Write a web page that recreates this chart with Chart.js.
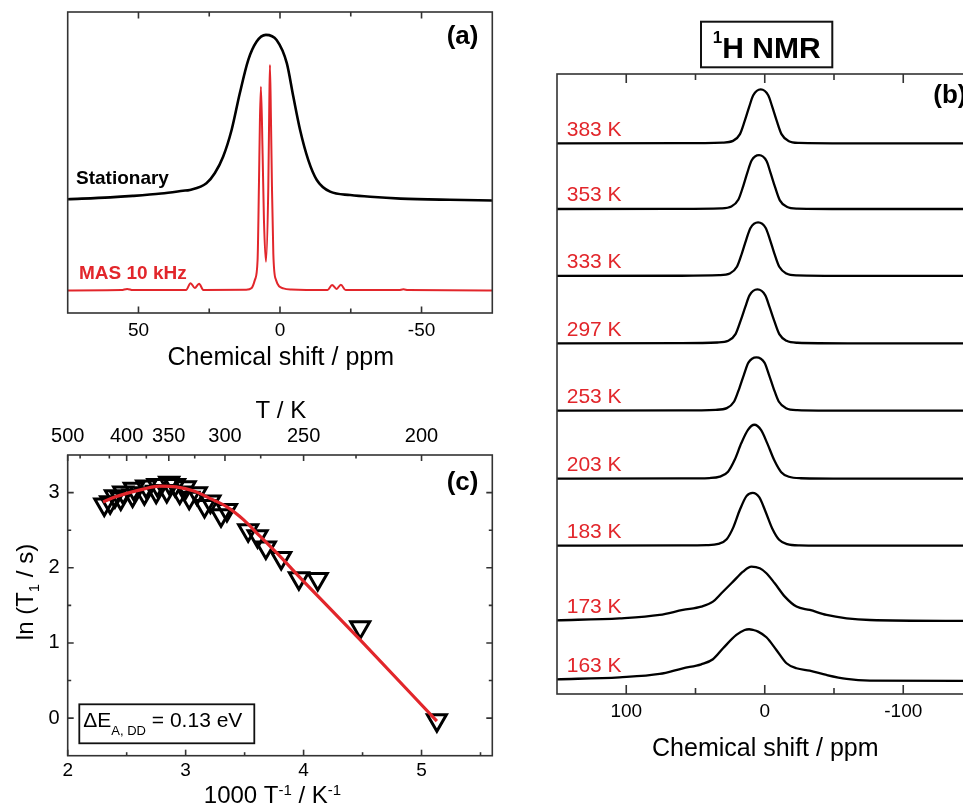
<!DOCTYPE html>
<html>
<head>
<meta charset="utf-8">
<script src="https://cdn.jsdelivr.net/npm/chart.js@4.4.1/dist/chart.umd.min.js"></script>
<style>
  html, body { margin: 0; padding: 0; background: #fff; }
  body { width: 963px; height: 807px; overflow: hidden; position: relative; }
  canvas { position: absolute; }
  #ca { left: 0; top: 0; }
  #cb { left: 520px; top: 0; }
  #cc { left: 0; top: 380px; }
</style>
</head>
<body>
<canvas id="ca" width="510" height="375"></canvas>
<canvas id="cb" width="470" height="807"></canvas>
<canvas id="cc" width="510" height="427"></canvas>
<script>
// ---------- (a) 1H spectra: static sample vs. MAS 10 kHz (shift / ppm, normalised intensity)
const statShift = [75, 60, 52, 42, 34.3, 31.9, 26.0, 23.0, 20.1, 17.1, 14.2, 11.2, 8.3, 5.0, 1.2, -2.4, -4.7, -7.1, -10.0, -13.0, -17.7, -24.8, -31.9, -42.6, -60, -75];
const statInt   = [0.378, 0.384, 0.389, 0.397, 0.406, 0.409, 0.431, 0.465, 0.519, 0.608, 0.730, 0.841, 0.901, 0.924, 0.907, 0.830, 0.719, 0.608, 0.508, 0.442, 0.403, 0.392, 0.386, 0.380, 0.376, 0.374];
const masShift  = [75, 56, 54, 52, 33.2, 31.6, 30.1, 28.6, 27.0, 12, 10, 8.87, 7.92, 7.45, 7.09, 6.74, 6.15, 5.67, 4.96, 4.13, 3.78, 3.55, 3.19, 2.84, 2.36, 1.42, -1.18, -4, -16.8, -18.4, -20.0, -21.5, -23.2, -42, -43.6, -45.2, -75];
const masInt    = [0.075, 0.076, 0.080, 0.076, 0.076, 0.099, 0.083, 0.097, 0.076, 0.077, 0.083, 0.110, 0.176, 0.420, 0.641, 0.752, 0.531, 0.309, 0.170, 0.420, 0.697, 0.824, 0.641, 0.420, 0.198, 0.110, 0.082, 0.078, 0.076, 0.093, 0.080, 0.094, 0.076, 0.076, 0.079, 0.076, 0.075];
const shiftTicksA = [50, 0, -50];
const shiftMinorA = [25, -25];

// ---------- (b) variable-temperature static 1H spectra
const temps = [383, 353, 333, 297, 253, 203, 183, 173, 163];
const shift383 = [150, 60, 30.4, 22.9, 17.9, 14.4, 11.3, 8.3, 2.9, -2.5, -5.5, -8.6, -12.1, -17.1, -24.6, -60, -150];
const int383   = [0, 0.003, 0.013, 0.044, 0.17, 0.42, 0.67, 0.89, 1.0, 0.89, 0.67, 0.42, 0.17, 0.044, 0.008, 0, 0];
const shift353 = [150, 60, 31.6, 24.1, 19.1, 15.6, 12.5, 9.5, 4.1, -1.3, -4.3, -7.4, -10.9, -15.9, -23.4, -60, -150];
const int353   = [0, 0.003, 0.012, 0.045, 0.17, 0.42, 0.68, 0.90, 1.0, 0.89, 0.66, 0.41, 0.16, 0.043, 0.008, 0, 0];
const shift333 = [150, 60, 32.9, 25.2, 20.1, 16.5, 13.4, 10.3, 4.8, -0.7, -3.8, -6.9, -10.5, -15.6, -23.3, -60, -150];
const int333   = [0, 0.004, 0.014, 0.046, 0.17, 0.42, 0.67, 0.89, 0.995, 0.89, 0.67, 0.42, 0.17, 0.045, 0.009, 0, 0];
const shift297 = [150, 60, 34.2, 26.3, 21.1, 17.4, 14.1, 11.0, 5.3, -0.4, -3.5, -6.8, -10.5, -15.7, -23.6, -60, -150];
const int297   = [0, 0.004, 0.015, 0.047, 0.17, 0.42, 0.67, 0.89, 1.0, 0.89, 0.67, 0.42, 0.17, 0.046, 0.010, 0, 0];
const shift253 = [150, 60, 35.4, 27.4, 22.1, 18.3, 15.0, 11.8, 6.0, 0.2, -3.0, -6.3, -10.1, -15.4, -23.4, -60, -150];
const int253   = [0, 0.004, 0.016, 0.048, 0.17, 0.42, 0.67, 0.89, 0.99, 0.89, 0.67, 0.42, 0.17, 0.047, 0.011, 0, 0];
const shift203 = [150, 60, 40, 32.5, 26.5, 21.7, 16.9, 12.0, 7.5, 2.6, -1.9, -6.9, -11.9, -17.5, -26.0, -60, -150];
const int203   = [0, 0.004, 0.012, 0.037, 0.13, 0.35, 0.66, 0.91, 1.0, 0.90, 0.65, 0.34, 0.12, 0.035, 0.008, 0, 0];
const shift183 = [150, 60, 42, 33.5, 27.5, 22.7, 17.9, 13.2, 8.7, 4.0, -0.6, -5.4, -10.4, -16.2, -25.0, -60, -150];
const int183   = [0, 0.004, 0.010, 0.033, 0.12, 0.34, 0.67, 0.92, 0.98, 0.90, 0.63, 0.32, 0.11, 0.030, 0.006, 0, 0];
const shift173 = [150, 104.8, 75.9, 59.1, 45.8, 37.4, 31.3, 22.9, 15.7, 9.6, 3.6, -1.2, -7.2, -14.5, -22.9, -32.5, -44.6, -59.1, -75.9, -150];
const int173   = [0, 0.037, 0.099, 0.192, 0.254, 0.346, 0.501, 0.717, 0.903, 0.996, 0.965, 0.872, 0.686, 0.439, 0.254, 0.192, 0.099, 0.037, 0.006, -0.012];
const shift163 = [150, 104.8, 75.9, 59.1, 45.8, 37.4, 30.1, 20.5, 14.5, 11.3, 8.4, 4.8, -1.2, -8.4, -15.7, -22.9, -32.5, -44.6, -59.1, -75.9, -150];
const int163   = [0, 0.037, 0.099, 0.204, 0.278, 0.371, 0.575, 0.822, 0.915, 0.928, 0.915, 0.884, 0.779, 0.544, 0.297, 0.204, 0.161, 0.080, 0.006, -0.025, -0.031];
const shiftTicksB = [100, 0, -100];
const shiftMinorB = [50, -50];

// ---------- (c) spin-lattice relaxation vs. inverse temperature
const invT = [2.31, 2.36, 2.40, 2.45, 2.47, 2.55, 2.56, 2.65, 2.665, 2.75, 2.76, 2.84, 2.86, 2.91, 2.95, 3.00, 3.03, 3.095, 3.16, 3.21, 3.30, 3.35, 3.53, 3.61, 3.68, 3.81, 3.96, 4.12, 4.48, 5.13];
const lnT1 = [2.84, 2.87, 2.95, 2.92, 3.00, 2.96, 3.05, 2.99, 3.08, 3.01, 3.10, 3.02, 3.13, 3.10, 3.00, 3.07, 2.93, 2.99, 2.82, 2.88, 2.70, 2.77, 2.50, 2.42, 2.27, 2.13, 1.86, 1.85, 1.21, -0.03];
const fitX = [2.30, 2.40, 2.50, 2.65, 2.78, 2.92, 3.07, 3.21, 3.35, 3.49, 3.63, 3.77, 4.00, 4.48, 5.13];
const fitY = [2.875, 2.94, 2.99, 3.05, 3.085, 3.075, 3.02, 2.92, 2.81, 2.64, 2.42, 2.20, 1.82, 1.04, -0.04];
const invTicks = [2, 3, 4, 5];
const invMinor = [2.5, 3.5, 4.5, 5.5];
const tempTicks = [500, 400, 350, 300, 250, 200];
const tempMinor = [475, 425, 375, 325, 275, 225];
const lnTicks = [0, 1, 2, 3];
const lnMinor = [0.5, 1.5, 2.5];

// ---------- shared styling
const FONT = "'Liberation Sans', Arial, Helvetica, sans-serif";
const RED = '#e2262b';
const FRAME = '#333';
Chart.defaults.font.family = FONT;
Chart.defaults.color = '#000';

const xy = (xs, ys, off = 0) => xs.map((x, i) => ({ x: x, y: ys[i] + off }));
const fontStr = (size, bold) => (bold ? 'bold ' : '') + size + 'px ' + FONT;

// text made of runs with their own size / raise (sub- and superscripts)
function drawRich(ctx, it) {
  ctx.save();
  ctx.translate(it.x, it.y);
  if (it.rotate) ctx.rotate(it.rotate);
  ctx.textBaseline = 'alphabetic';
  ctx.textAlign = 'left';
  const widths = it.segs.map(s => { ctx.font = fontStr(s.size, s.bold); return ctx.measureText(s.t).width; });
  const total = widths.reduce((a, b) => a + b, 0);
  let x = it.align === 'center' ? -total / 2 : it.align === 'right' ? -total : 0;
  it.segs.forEach((s, i) => {
    ctx.font = fontStr(s.size, s.bold);
    ctx.fillStyle = s.color || it.color || '#000';
    ctx.fillText(s.t, x, s.dy || 0);
    x += widths[i];
  });
  ctx.restore();
}

// plot frame, inward tick marks, boxes and annotation text
function makeDecor(spec) {
  return {
    id: 'decor',
    afterDraw(chart) {
      const { ctx, chartArea: a } = chart;
      ctx.save();
      ctx.strokeStyle = FRAME;
      ctx.lineWidth = 1.6;
      ctx.strokeRect(a.left, a.top, a.right - a.left, a.bottom - a.top);
      (spec.ticks || []).forEach(t => {
        const sc = chart.scales[t.scale];
        t.values.forEach(v => {
          const p = sc.getPixelForValue(t.map ? t.map(v) : v);
          ctx.beginPath();
          t.sides.forEach(side => {
            if (side === 'bottom') { ctx.moveTo(p, a.bottom); ctx.lineTo(p, a.bottom - t.len); }
            if (side === 'top') { ctx.moveTo(p, a.top); ctx.lineTo(p, a.top + t.len); }
            if (side === 'left') { ctx.moveTo(a.left, p); ctx.lineTo(a.left + t.len, p); }
            if (side === 'right') { ctx.moveTo(a.right, p); ctx.lineTo(a.right - t.len, p); }
          });
          ctx.stroke();
        });
      });
      (spec.boxes || []).forEach(b => {
        ctx.lineWidth = b.lw;
        ctx.strokeStyle = '#111';
        ctx.strokeRect(b.x, b.y, b.w, b.h);
      });
      ctx.restore();
      const texts = typeof spec.texts === 'function' ? spec.texts(chart) : (spec.texts || []);
      texts.forEach(it => drawRich(ctx, it));
    }
  };
}

const baseOptions = {
  responsive: false,
  maintainAspectRatio: false,
  devicePixelRatio: 1,
  animation: false,
  events: [],
  plugins: { legend: { display: false }, tooltip: { enabled: false } }
};

function axisX(opts) {
  return Object.assign({
    type: 'linear',
    grid: { display: false, drawTicks: false },
    border: { display: false },
    ticks: { font: { size: 19 }, color: '#000', padding: 6, maxRotation: 0, minRotation: 0, autoSkip: false }
  }, opts);
}

// ---------- panel (a)
new Chart(document.getElementById('ca'), {
  type: 'scatter',
  data: {
    datasets: [
      { data: xy(masShift, masInt), showLine: true, borderColor: RED, borderWidth: 2, pointRadius: 0,
        cubicInterpolationMode: 'monotone', order: 0 },
      { data: xy(statShift, statInt), showLine: true, borderColor: '#000', borderWidth: 2.6, pointRadius: 0,
        cubicInterpolationMode: 'monotone', order: 1 }
    ]
  },
  options: Object.assign({}, baseOptions, {
    layout: { padding: { left: 67.7, right: 17.7, top: 12, bottom: 0 } },
    scales: {
      x: axisX({
        position: 'bottom', reverse: true, min: -75, max: 75,
        afterBuildTicks: s => { s.ticks = shiftTicksA.map(v => ({ value: v })); },
        afterFit: s => { s.height = 62; }
      }),
      y: { type: 'linear', display: false, min: 0, max: 1 }
    }
  }),
  plugins: [makeDecor({
    ticks: [
      { scale: 'x', values: shiftTicksA, len: 6.5, sides: ['bottom', 'top'] },
      { scale: 'x', values: shiftMinorA, len: 4.5, sides: ['bottom', 'top'] }
    ],
    texts: [
      { x: 76, y: 184.3, segs: [{ t: 'Stationary', size: 19, bold: true }] },
      { x: 79, y: 279.3, color: RED, segs: [{ t: 'MAS 10 kHz', size: 19, bold: true }] },
      { x: 446.7, y: 44, segs: [{ t: '(a)', size: 26, bold: true }] },
      { x: 280.8, y: 365, align: 'center', segs: [{ t: 'Chemical shift / ppm', size: 25 }] }
    ]
  })]
});

// ---------- panel (b)
const vtShift = [shift383, shift353, shift333, shift297, shift253, shift203, shift183, shift173, shift163];
const vtInt = [int383, int353, int333, int297, int253, int203, int183, int173, int163];
// vertical stacking of the traces (axis units, bottom trace lowest)
const stackOffset = [10.215, 8.996, 7.754, 6.505, 5.255, 3.994, 2.751, 1.367, 0.273];

new Chart(document.getElementById('cb'), {
  type: 'scatter',
  data: {
    datasets: temps.map((T, i) => ({
      label: T + ' K',
      data: xy(vtShift[i], vtInt[i], stackOffset[i]),
      showLine: true, borderColor: '#000', borderWidth: 2.3, pointRadius: 0,
      cubicInterpolationMode: 'monotone'
    }))
  },
  options: Object.assign({}, baseOptions, {
    layout: { padding: { left: 37, right: 17.5, top: 74, bottom: 0 } },
    scales: {
      x: axisX({
        position: 'bottom', reverse: true, min: -150, max: 150,
        afterBuildTicks: s => { s.ticks = shiftTicksB.map(v => ({ value: v })); },
        afterFit: s => { s.height = 113; }
      }),
      y: { type: 'linear', display: false, min: 0, max: 11.5 }
    }
  }),
  plugins: [makeDecor({
    ticks: [
      { scale: 'x', values: shiftTicksB, len: 9, sides: ['bottom', 'top'] },
      { scale: 'x', values: shiftMinorB, len: 6, sides: ['bottom', 'top'] }
    ],
    boxes: [{ x: 181, y: 21.7, w: 131.3, h: 45.6, lw: 2 }],
    texts: chart => {
      const ys = chart.scales.y;
      const items = temps.map((T, i) => ({
        x: 46.7, y: ys.getPixelForValue(stackOffset[i]) - 7.5, color: RED,
        segs: [{ t: T + ' K', size: 21 }]
      }));
      items.push(
        { x: 246.7, y: 58.3, align: 'center', segs: [{ t: '1', size: 17, bold: true, dy: -15 }, { t: 'H NMR', size: 30, bold: true }] },
        { x: 413.3, y: 103, segs: [{ t: '(b)', size: 26, bold: true }] },
        { x: 245.3, y: 756, align: 'center', segs: [{ t: 'Chemical shift / ppm', size: 25 }] }
      );
      return items;
    }
  })]
});

// ---------- panel (c)
new Chart(document.getElementById('cc'), {
  type: 'scatter',
  data: {
    datasets: [
      { data: xy(fitX, fitY), showLine: true, borderColor: RED, borderWidth: 3.2, pointRadius: 0,
        cubicInterpolationMode: 'monotone', order: 0 },
      { data: xy(invT, lnT1), showLine: false, pointStyle: 'triangle', pointRotation: 180,
        pointRadius: 11, pointHoverRadius: 11, pointBorderWidth: 3, pointBorderColor: '#000',
        pointBackgroundColor: 'rgba(0,0,0,0)', order: 1 }
    ]
  },
  options: Object.assign({}, baseOptions, {
    layout: { padding: { left: 0, right: 17.7, top: 0, bottom: 0 } },
    scales: {
      x: axisX({
        position: 'bottom', min: 2, max: 5.6,
        ticks: { font: { size: 19 }, color: '#000', padding: 4, maxRotation: 0, minRotation: 0, autoSkip: false },
        afterBuildTicks: s => { s.ticks = invTicks.map(v => ({ value: v })); },
        afterFit: s => { s.height = 51.3; }
      }),
      xT: axisX({
        position: 'top', min: 2, max: 5.6,
        ticks: { font: { size: 20 }, color: '#000', padding: 6.6, maxRotation: 0, minRotation: 0, autoSkip: false,
                 callback: (v, i) => String(tempTicks[i]) },
        afterBuildTicks: s => { s.ticks = tempTicks.map(T => ({ value: 1000 / T })); },
        afterFit: s => { s.height = 75; }
      }),
      y: {
        type: 'linear', position: 'left', min: -0.5, max: 3.5,
        grid: { display: false, drawTicks: false },
        border: { display: false },
        ticks: { font: { size: 20 }, color: '#000', padding: 8, autoSkip: false },
        afterBuildTicks: s => { s.ticks = lnTicks.map(v => ({ value: v })); },
        afterFit: s => { s.width = 67.7; }
      }
    }
  }),
  plugins: [makeDecor({
    ticks: [
      { scale: 'x', values: invTicks, len: 6, sides: ['bottom'] },
      { scale: 'x', values: invMinor, len: 3.5, sides: ['bottom'] },
      { scale: 'xT', values: tempTicks, map: T => 1000 / T, len: 6, sides: ['top'] },
      { scale: 'xT', values: tempMinor, map: T => 1000 / T, len: 3.5, sides: ['top'] },
      { scale: 'y', values: lnTicks, len: 6, sides: ['left', 'right'] },
      { scale: 'y', values: lnMinor, len: 3.5, sides: ['left', 'right'] }
    ],
    boxes: [{ x: 79.3, y: 324.3, w: 175, h: 39, lw: 1.8 }],
    texts: [
      { x: 280.8, y: 38.3, align: 'center', segs: [{ t: 'T / K', size: 24 }] },
      { x: 446.7, y: 109.5, segs: [{ t: '(c)', size: 26, bold: true }] },
      { x: 33, y: 212, rotate: -Math.PI / 2, align: 'center',
        segs: [{ t: 'ln (T', size: 24 }, { t: '1', size: 15, dy: 6 }, { t: ' / s)', size: 24 }] },
      { x: 272.5, y: 423.3, align: 'center',
        segs: [{ t: '1000 T', size: 24 }, { t: '-1', size: 15, dy: -8 }, { t: ' / K', size: 24 }, { t: '-1', size: 15, dy: -8 }] },
      { x: 83.3, y: 346.7,
        segs: [{ t: '\u0394E', size: 21 }, { t: 'A, DD', size: 13, dy: 8 }, { t: ' = 0.13 eV', size: 21 }] }
    ]
  })]
});
</script>
</body>
</html>
